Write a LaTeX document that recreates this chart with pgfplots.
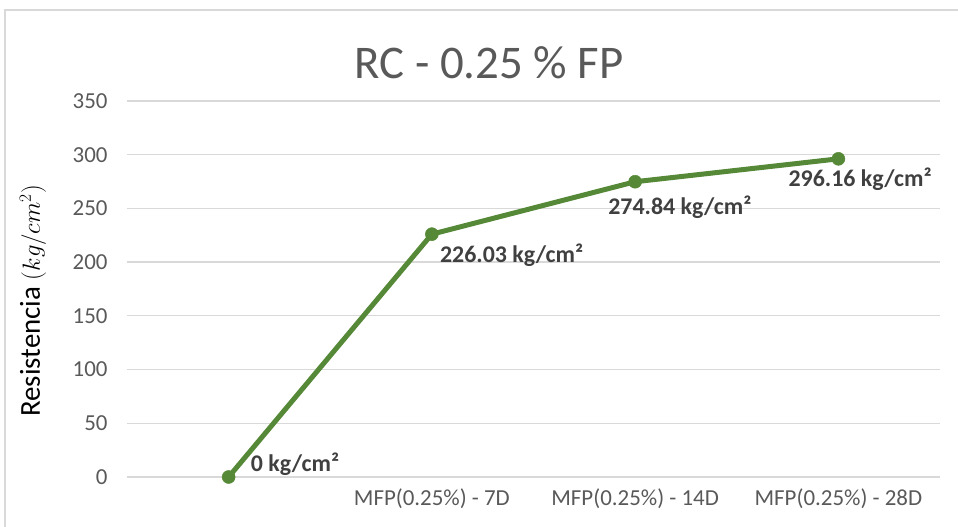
\documentclass[border=0pt]{standalone}
\usepackage{pgfplots}
\pgfplotsset{compat=1.18}
\usepackage{fontspec}
\setmainfont{Carlito}
\definecolor{linegreen}{RGB}{86,137,55}
\definecolor{gridgray}{RGB}{217,217,217}
\definecolor{textgray}{RGB}{89,89,89}
\definecolor{labelgray}{RGB}{64,64,64}
\begin{document}
\begin{tikzpicture}[x=1bp,y=1bp]
\path[use as bounding box] (0,0) rectangle (958,527);
\draw[gridgray, line width=1.3bp] (5,-20) rectangle (990,517);
\node[textgray, font=\fontsize{47}{56}\selectfont] at (489,464) {RC - 0.25 \% FP};
\node[black, rotate=90, inner sep=0pt] at (33,226) {\fontsize{29}{35}\selectfont Resistencia \fontsize{27}{32}\selectfont$(kg/cm^{2})$};
\begin{axis}[
  at={(127bp,50bp)}, anchor=south west,
  scale only axis, width=813bp, height=376bp,
  xmin=-0.5, xmax=3.5, ymin=0, ymax=350,
  ytick={0,50,...,350},
  xtick={0,1,2,3},
  xticklabels={{}, MFP(0.25\%) - 7D, MFP(0.25\%) - 14D, MFP(0.25\%) - 28D},
  axis line style={draw=none},
  tick style={draw=none},
  ymajorgrids, grid style={gridgray, line width=1.3bp},
  tick label style={textgray, font=\fontsize{23}{28}\selectfont},
  /pgf/number format/assume math mode=true,
  yticklabel style={xshift=-16bp},
  xticklabel style={yshift=-8bp},
  clip=false,
]
\addplot[linegreen, line width=5bp, mark=*, mark size=6.5bp,
  mark options={solid, fill=linegreen, draw=linegreen, line width=0.5bp}]
  coordinates {(0,0) (1,226.03) (2,274.84) (3,296.16)};
\begin{scope}[every node/.style={labelgray, inner sep=0pt, anchor=west, font=\fontsize{24}{29}\selectfont\bfseries}]
\node[xshift=22bp, yshift=13bp] at (axis cs:0,0) {0 kg/cm²};
\node[xshift=8bp, yshift=-21bp] at (axis cs:1,226.03) {226.03 kg/cm²};
\node[xshift=-27bp, yshift=-25bp] at (axis cs:2,274.84) {274.84 kg/cm²};
\node[xshift=-50bp, yshift=-20bp] at (axis cs:3,296.16) {296.16 kg/cm²};
\end{scope}
\end{axis}
\end{tikzpicture}
\end{document}
